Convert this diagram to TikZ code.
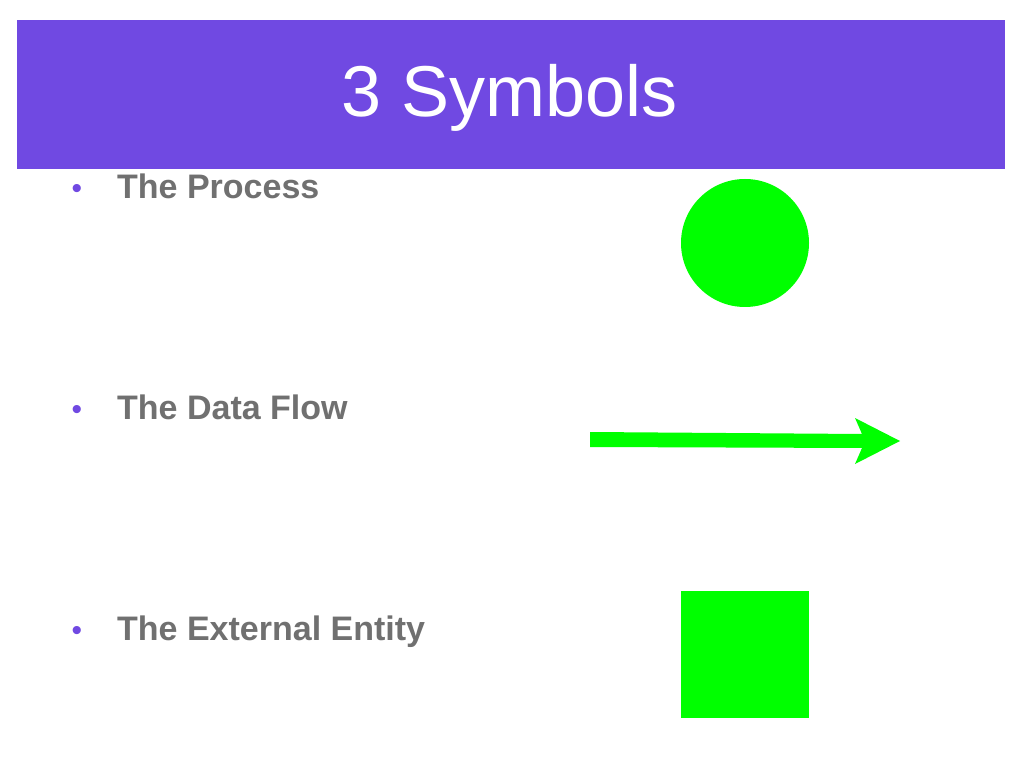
\documentclass[tikz,border=0pt]{standalone}
\usepackage{fontspec}
\setmainfont{Liberation Sans}
\definecolor{barc}{HTML}{7049E2}
\definecolor{grn}{HTML}{00FF00}
\definecolor{txt}{HTML}{707070}
\begin{document}
\begin{tikzpicture}[x=1pt,y=-1pt,
  item/.style={anchor=base west,text=txt,font=\fontsize{34}{40}\selectfont\bfseries,inner sep=0},
  dot/.style={anchor=base,text=barc,font=\fontsize{30}{36}\selectfont,inner sep=0}]
\useasboundingbox (0,0) rectangle (1023,767);
\fill[white] (0,0) rectangle (1023,767);
\fill[barc] (17,20) rectangle (1005,169);
\node[text=white,font=\fontsize{72}{80}\selectfont] (title) at (510,98) {3 Symbols};
\node[dot] (d1) at (77,199) {•};
\node[item] (t1) at (117,199) {The Process};
\node[dot] (d2) at (77,419) {•};
\node[item] (t2) at (117,419) {The Data Flow};
\node[dot] (d3) at (77,640) {•};
\node[item] (t3) at (117,640) {The External Entity};
\fill[grn] (745,243) circle (64);
\fill[grn] (590,432) -- (862,434) -- (855,418) -- (900,441) -- (855,464) -- (862,448) -- (590,447) -- cycle;
\fill[grn] (681,591) rectangle (809,718);
\end{tikzpicture}
\end{document}
